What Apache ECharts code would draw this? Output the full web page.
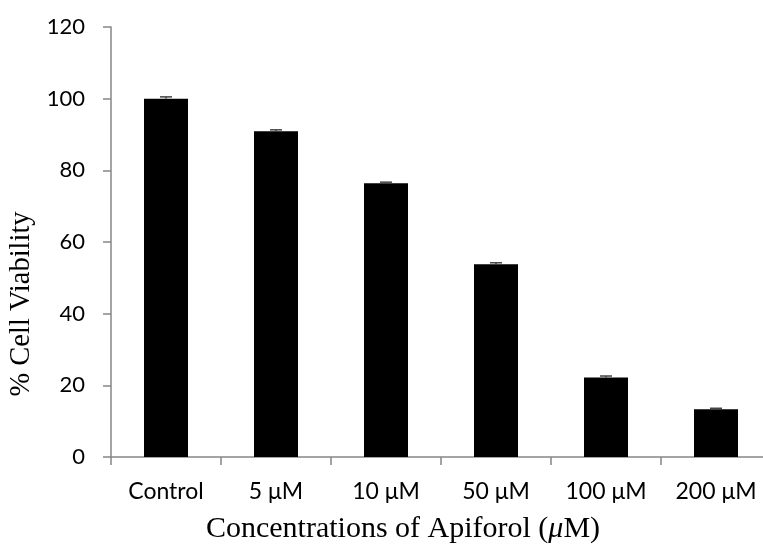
<!DOCTYPE html>
<html>
<head>
<meta charset="utf-8">
<script src="https://cdn.jsdelivr.net/npm/echarts@6/dist/echarts.min.js"></script>
<style>
html, body { margin: 0; padding: 0; background: #fff; }
#chart { width: 763px; height: 545px; }
</style>
</head>
<body>
<div id="chart"></div>
<script>
// categories and values
var categories = ['Control', '5 μM', '10 μM', '50 μM', '100 μM', '200 μM'];
var viability = [100, 90.9, 76.4, 53.8, 22.2, 13.3];
var errors = [0.5, 0.4, 0.3, 0.4, 0.4, 0.3];
var yTicks = { min: 0, max: 120, interval: 20 };

var axisGray = '#868686';
var sansFont = 'Lato';
var serifFont = 'Liberation Serif';

//error bar data: [category index, value, error]
var errData = viability.map(function (v, i) {
    return [i, v, errors[i]];
});

var chart = echarts.init(document.getElementById('chart'));
var option = {
    animation: false,
    grid: { left: 111, top: 27, width: 660, height: 430, outerBoundsMode: 'none', containLabel: false },
    xAxis: {
        type: 'category',
        data: categories,
        name: 'Concentrations of Apiforol ({i|μ}M)',
        nameLocation: 'middle',
        nameGap: 57,
        nameTextStyle: {
            fontFamily: serifFont, fontSize: 30, color: '#000',
            padding: [0, 76, 0, 0],
            rich: { i: { fontFamily: serifFont, fontSize: 30, fontStyle: 'italic', color: '#000' } }
        },
        axisLine: { lineStyle: { color: axisGray, width: 1.5 } },
        axisTick: { show: true, length: 8, alignWithLabel: false, lineStyle: { color: axisGray, width: 1.5 } },
        axisLabel: { fontFamily: sansFont, fontSize: 23, color: '#000', margin: 23 }
    },
    yAxis: {
        type: 'value',
        min: yTicks.min,
        max: yTicks.max,
        interval: yTicks.interval,
        name: '% Cell Viability',
        nameLocation: 'middle',
        nameGap: 71,
        nameTextStyle: {
            fontFamily: serifFont, fontSize: 28.5, color: '#000',
            padding: [0, 124, 0, 0]
        },
        splitLine: { show: false },
        axisLine: { show: true, lineStyle: { color: axisGray, width: 1.5 } },
        axisTick: { show: true, length: 8, lineStyle: { color: axisGray, width: 1.5 } },
        axisLabel: { fontFamily: sansFont, fontSize: 22, color: '#000', margin: 26 }
    },
    series: [{
        type: 'bar',
        data: viability,
        barWidth: '40%',
        itemStyle: { color: '#000' }
    }, {
        type: 'custom',
        data: errData,
        z: 3,
        renderItem: function (params, api) {
            var x = api.value(0);
            var top = api.coord([x, api.value(1) + api.value(2)]);
            var base = api.coord([x, api.value(1)]);
            var half = 6;
            var style = { stroke: '#444', lineWidth: 1.5 };
            return {
                type: 'group',
                children: [{
                    type: 'line',
                    shape: { x1: top[0], y1: top[1], x2: base[0], y2: base[1] },
                    style: style
                }, {
                    type: 'line',
                    shape: { x1: top[0] - half, y1: top[1], x2: top[0] + half, y2: top[1] },
                    style: style
                }]
            };
        }
    }]
};
chart.setOption(option);
</script>
</body>
</html>
